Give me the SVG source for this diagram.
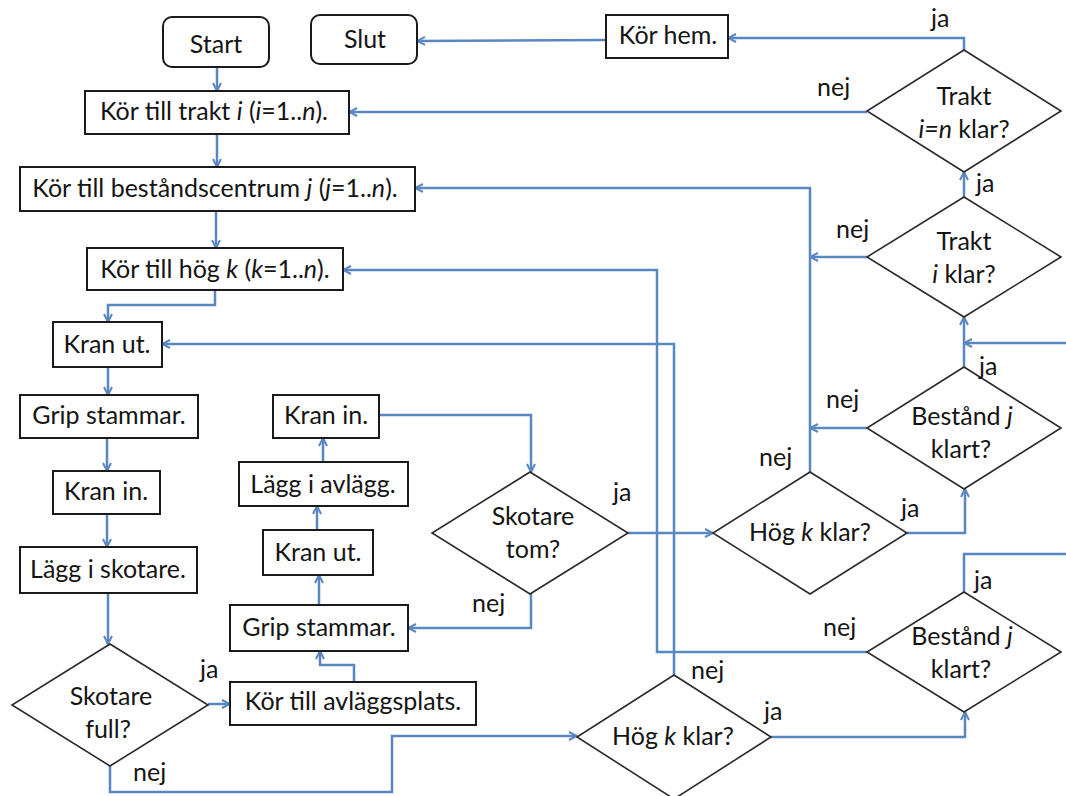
<svg xmlns="http://www.w3.org/2000/svg" width="1066" height="796" viewBox="0 0 1066 796">
<defs>
<marker id="arr" viewBox="0 0 10 10" refX="9" refY="5" markerWidth="10" markerHeight="10" markerUnits="userSpaceOnUse" orient="auto">
<path d="M1,1 L9,5 L1,9" fill="none" stroke="#5a87c2" stroke-width="2"/>
</marker>
<style>
.box{fill:#fff;stroke:#1a1a1a;stroke-width:2}
.dia{fill:#fff;stroke:#2a2a2a;stroke-width:1.6}
.t{font-family:Lato,"Open Sans",sans-serif;font-size:25px;fill:#141414;text-anchor:middle}
.lb{font-family:Lato,"Open Sans",sans-serif;font-size:25px;fill:#141414}
.c{fill:none;stroke:#5a87c2;stroke-width:2.5}
.a{marker-end:url(#arr)}
</style>
</defs>
<rect width="1066" height="796" fill="#fff"/>
<g id="connectors">
<polyline class="c a" points="217,67 217,91"/>
<polyline class="c a" points="217,134 217,167"/>
<polyline class="c a" points="216,211 216,248"/>
<polyline class="c a" points="215,290 215,305 108,305 108,322"/>
<polyline class="c a" points="108,367 108,395"/>
<polyline class="c a" points="107,438 107,471"/>
<polyline class="c a" points="107,514 107,547"/>
<polyline class="c a" points="108,593 108,644"/>
<polyline class="c a" points="208,704 230,704"/>
<polyline class="c a" points="110,766 110,792 392,792 392,736 577,736"/>
<polyline class="c a" points="354,682 354,665 320,665 320,651"/>
<polyline class="c a" points="319,605 319,575"/>
<polyline class="c a" points="317,530 317,506"/>
<polyline class="c a" points="323,462 323,438"/>
<polyline class="c a" points="379,415 531,415 531,472"/>
<polyline class="c a" points="531,594 531,628 408,628"/>
<polyline class="c a" points="628,533 713,533"/>
<polyline class="c a" points="810,472 810,188 415,188"/>
<polyline class="c a" points="907,533 965,533 965,489"/>
<polyline class="c a" points="867,428 810,428"/>
<polyline class="c a" points="964,367 964,317"/>
<polyline class="c a" points="867,257 810,257"/>
<polyline class="c a" points="964,197 964,172"/>
<polyline class="c a" points="867,112 349,112"/>
<polyline class="c a" points="964,50 964,38 728,38"/>
<polyline class="c a" points="606,40 417,41"/>
<polyline class="c a" points="1066,343 964,343"/>
<polyline class="c a" points="867,652 657,652 657,270 343,270"/>
<polyline class="c a" points="674,675 674,344 162,344"/>
<polyline class="c a" points="771,737 965,737 965,712"/>
<polyline class="c" points="964,592 964,554 1066,554"/>
</g>
<g id="start"><rect class="box" x="163" y="17" width="106" height="50" rx="9"/><text class="t" x="216" y="53">Start</text></g>
<g id="slut"><rect class="box" x="311" y="15" width="106" height="49" rx="9"/><text class="t" x="365" y="48">Slut</text></g>
<g id="korhem"><rect class="box" x="606" y="15" width="122" height="43"/><text class="t" x="668" y="44">Kör hem.</text></g>
<g id="trakt"><rect class="box" x="85" y="91" width="264" height="43"/><text class="t" x="214" y="120">Kör till trakt <tspan font-style="italic">i</tspan> (<tspan font-style="italic">i</tspan>=1..<tspan font-style="italic">n</tspan>).</text></g>
<g id="bestandscentrum"><rect class="box" x="20" y="167" width="395" height="44"/><text class="t" x="215" y="197">Kör till beståndscentrum <tspan font-style="italic">j</tspan> (<tspan font-style="italic">j</tspan>=1..<tspan font-style="italic">n</tspan>).</text></g>
<g id="hog"><rect class="box" x="87" y="248" width="256" height="42"/><text class="t" x="215" y="278">Kör till hög <tspan font-style="italic">k</tspan> (<tspan font-style="italic">k</tspan>=1..<tspan font-style="italic">n</tspan>).</text></g>
<g id="kranut1"><rect class="box" x="53" y="322" width="109" height="45"/><text class="t" x="107" y="353">Kran ut.</text></g>
<g id="grip1"><rect class="box" x="20" y="395" width="178" height="43"/><text class="t" x="109" y="424">Grip stammar.</text></g>
<g id="kranin1"><rect class="box" x="53" y="471" width="107" height="43"/><text class="t" x="106" y="500">Kran in.</text></g>
<g id="laggskotare"><rect class="box" x="20" y="547" width="177" height="46"/><text class="t" x="108" y="578">Lägg i skotare.</text></g>
<g id="kranin2"><rect class="box" x="273" y="395" width="106" height="43"/><text class="t" x="326" y="424">Kran in.</text></g>
<g id="laggavlagg"><rect class="box" x="239" y="462" width="169" height="44"/><text class="t" x="323" y="493">Lägg i avlägg.</text></g>
<g id="kranut2"><rect class="box" x="263" y="530" width="110" height="45"/><text class="t" x="318" y="561">Kran ut.</text></g>
<g id="grip2"><rect class="box" x="230" y="605" width="178" height="46"/><text class="t" x="319" y="636">Grip stammar.</text></g>
<g id="koravlagg"><rect class="box" x="230" y="682" width="246" height="43"/><text class="t" x="353" y="710">Kör till avläggsplats.</text></g>
<g id="traktn"><polygon class="dia" points="964,50 1061,111 964,172 867,111"/><text class="t" x="964" y="105">Trakt</text><text class="t" x="964" y="138"><tspan font-style="italic">i=n</tspan> klar?</text></g>
<g id="trakti"><polygon class="dia" points="964,197 1061,257 964,317 867,257"/><text class="t" x="964" y="250">Trakt</text><text class="t" x="964" y="283"><tspan font-style="italic">i</tspan> klar?</text></g>
<g id="bestand1"><polygon class="dia" points="964,367 1061,428 964,489 867,428"/><text class="t" x="962" y="425">Bestånd <tspan font-style="italic">j</tspan></text><text class="t" x="961" y="458">klart?</text></g>
<g id="hogk1"><polygon class="dia" points="810,472 907,533 810,594 713,533"/><text class="t" x="810" y="541">Hög <tspan font-style="italic">k</tspan> klar?</text></g>
<g id="skotaretom"><polygon class="dia" points="530,472 628,533 530,594 432,533"/><text class="t" x="533" y="525">Skotare</text><text class="t" x="533" y="558">tom?</text></g>
<g id="bestand2"><polygon class="dia" points="964,592 1061,652 964,712 867,652"/><text class="t" x="962" y="645">Bestånd <tspan font-style="italic">j</tspan></text><text class="t" x="961" y="678">klart?</text></g>
<g id="hogk2"><polygon class="dia" points="674,675 771,737 674,799 577,737"/><text class="t" x="673" y="745">Hög <tspan font-style="italic">k</tspan> klar?</text></g>
<g id="skotarefull"><polygon class="dia" points="110,644 208,705 110,766 12,705"/><text class="t" x="111" y="705">Skotare</text><text class="t" x="108" y="738">full?</text></g>
<g id="labels">
<text class="lb" x="931" y="27">ja</text>
<text class="lb" x="817" y="96">nej</text>
<text class="lb" x="976" y="192">ja</text>
<text class="lb" x="836" y="238">nej</text>
<text class="lb" x="979" y="375">ja</text>
<text class="lb" x="826" y="408">nej</text>
<text class="lb" x="759" y="466">nej</text>
<text class="lb" x="901" y="517">ja</text>
<text class="lb" x="613" y="501">ja</text>
<text class="lb" x="472" y="612">nej</text>
<text class="lb" x="974" y="589">ja</text>
<text class="lb" x="823" y="636">nej</text>
<text class="lb" x="691" y="679">nej</text>
<text class="lb" x="764" y="720">ja</text>
<text class="lb" x="200" y="678">ja</text>
<text class="lb" x="133" y="781">nej</text>
</g>
</svg>
